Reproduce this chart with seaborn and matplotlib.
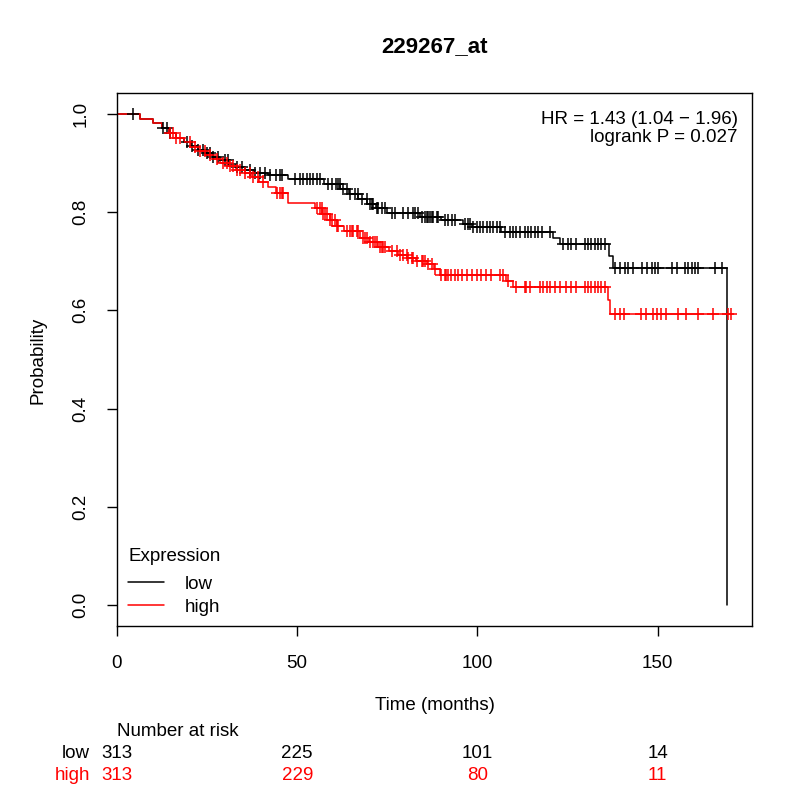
import matplotlib
matplotlib.use("Agg")
import matplotlib.pyplot as plt
import matplotlib.transforms as mtransforms
from matplotlib.lines import Line2D
import numpy as np
import pandas as pd
import seaborn as sns

sns.set_theme(style="white")
plt.rcParams["font.family"] = ["Liberation Sans", "DejaVu Sans"]
plt.rcParams["text.color"] = "black"
plt.rcParams["axes.labelcolor"] = "black"

# Kaplan-Meier steps (time in months, survival after step)
low_event_t = [0, 6.5, 10, 12.5, 14.5, 16.5, 18.5, 20.5, 22.5, 24.5, 26.5, 28.5,
               31, 33, 35.5, 38, 42, 47.5, 57.5, 62, 64.5, 67, 69.5, 72, 75, 84,
               90, 96, 98.5, 106.5, 121, 123, 136.5, 137.5, 169.2]
low_event_s = [1.000, 0.990, 0.980, 0.970, 0.960, 0.951, 0.943, 0.935, 0.927,
               0.919, 0.912, 0.905, 0.898, 0.892, 0.886, 0.880, 0.875, 0.867,
               0.856, 0.846, 0.836, 0.826, 0.817, 0.808, 0.798, 0.790, 0.783,
               0.776, 0.770, 0.760, 0.748, 0.735, 0.710, 0.686, 0.0]

high_event_t = [0, 6.5, 10, 12.5, 14.5, 16.5, 18.5, 20.5, 22.5, 24.5, 26.5, 28.5,
                31, 33, 35.5, 37.5, 39.5, 42, 44, 47.5, 55, 57, 59, 61, 63, 67.5,
                70, 72.5, 75.5, 78, 80.5, 83, 86, 88, 89.6, 108, 110, 136.3,
                136.8, 170.5]
high_event_s = [1.000, 0.990, 0.980, 0.970, 0.960, 0.951, 0.942, 0.933, 0.924,
                0.916, 0.908, 0.900, 0.893, 0.886, 0.880, 0.872, 0.862, 0.851,
                0.838, 0.818, 0.808, 0.796, 0.784, 0.772, 0.762, 0.748, 0.738,
                0.728, 0.720, 0.713, 0.706, 0.700, 0.694, 0.684, 0.672, 0.660,
                0.648, 0.621, 0.592, 0.592]

low_censor = [4.5, 12.8, 13.9, 14.7, 19.4, 20.8, 22.5, 23.9, 25, 25.8, 26.6, 28,
              30, 30.8, 33.3, 34.7, 36.9, 38.3, 39.7, 41, 42.5, 44, 45.2, 45.8,
              49.4, 50.7, 51.7, 52.6, 53.5, 54.4, 55.4, 56.3, 58.5, 59.6, 60.9,
              61.3, 61.8, 62.7, 63.8, 64.6, 66, 66.8, 67.9, 69.3, 70.2, 70.7, 71,
              72.1, 72.4, 73.5, 74.3, 76.3, 77.1, 79.3, 80.7, 82.1, 82.6, 83.5,
              84.5, 85.4, 85.9, 86.3, 86.8, 87.3, 87.7, 88.7, 89.1, 91, 91.8,
              92.9, 93.7, 96.5, 97.3, 97.9, 98.7, 99.8, 100.7, 101.5, 102.6,
              103.4, 104.3, 105.4, 106.2, 107.6, 109, 109.9, 110.8, 111.8, 113.1,
              114.1, 115, 115.9, 116.8, 117.8, 120.1, 123.8, 125.2, 126.1, 127.5,
              129.8, 130.7, 131.6, 132.5, 133.5, 134.4, 135.3, 138.1, 139.5,
              140.9, 141.7, 143.1, 145.6, 147, 148.4, 149.2, 150, 153.9, 155.3,
              157.5, 158.4, 159.5, 160.3, 161.1, 165.8, 167.8]

high_censor = [14.7, 15.6, 16.5, 17.5, 20.2, 21.6, 23, 24.4, 25.8, 27.7, 29.4,
               30.5, 31.3, 32.2, 33.3, 34.1, 35.5, 36.9, 37.7, 39.1, 40.5, 44.4,
               45.2, 45.8, 46, 55.5, 56.3, 56.8, 57.1, 57.7, 58.2, 59.1, 59.6,
               60.5, 61, 61.3, 63.8, 64.6, 65.2, 65.4, 66.6, 66.8, 68.2, 68.8,
               69.3, 70.2, 71, 71.5, 72.1, 72.9, 73.5, 73.8, 74.3, 76.3, 77.6,
               78.5, 79.3, 80.4, 80.7, 81.8, 82.1, 83.2, 84.5, 84.9, 85.4, 86.2,
               87.3, 88.2, 90, 91, 91.4, 91.9, 92.8, 93.7, 94.7, 95.6, 97, 98.4,
               99.8, 101.1, 102.5, 103.9, 106.2, 107.1, 108.5, 110.8, 113.1,
               113.6, 114.5, 117.3, 118.2, 119.2, 120.1, 121.5, 122.8, 124.7,
               126.1, 127.5, 129.8, 130.7, 131.6, 132.5, 133.5, 134.4, 135.3,
               138.1, 139.5, 140.6, 145.5, 146.9, 148.7, 149.8, 151, 152.4, 155.7,
               158, 161.2, 165.4, 169.6, 170.5]

risk_times = [0, 50, 100, 150]
risk_low = [313, 225, 101, 14]
risk_high = [313, 229, 80, 11]

groups = ["low", "high"]
colors = {"low": "black", "high": "red"}
FS = 13.5


def surv_at(times, surv, t):
    idx = np.searchsorted(times, t, side="right") - 1
    return np.asarray(surv)[idx]


curves = pd.concat([
    pd.DataFrame({"time": low_event_t, "surv": low_event_s, "group": "low"}),
    pd.DataFrame({"time": high_event_t, "surv": high_event_s, "group": "high"}),
], ignore_index=True)

low_c = np.array(low_censor)
high_c = np.array(high_censor)
censors = pd.concat([
    pd.DataFrame({"time": low_c, "surv": surv_at(low_event_t[:-1], low_event_s[:-1], low_c), "group": "low"}),
    pd.DataFrame({"time": high_c, "surv": surv_at(high_event_t, high_event_s, high_c), "group": "high"}),
], ignore_index=True)

fig = plt.figure(figsize=(8, 8), dpi=100)
ax = fig.add_axes([117 / 800, 1 - 626 / 800, (752 - 117) / 800, (626 - 93) / 800])

sns.lineplot(data=curves, x="time", y="surv", hue="group", palette=colors,
             drawstyle="steps-post", estimator=None, sort=False, legend=False,
             linewidth=1.1, ax=ax)
sns.scatterplot(data=censors, x="time", y="surv", hue="group", palette=colors,
                marker="+", s=75, linewidth=1.1, legend=False, ax=ax, zorder=3)

ax.set_xlim(0, 176.2)
ax.set_ylim(-0.042, 1.042)
ax.set_xticks([0, 50, 100, 150])
ax.set_yticks([0.0, 0.2, 0.4, 0.6, 0.8, 1.0])
ax.set_yticklabels(["0.0", "0.2", "0.4", "0.6", "0.8", "1.0"], rotation=90, va="center")
ax.tick_params(axis="both", direction="out", length=7, width=1, color="black",
               labelsize=FS, labelcolor="black", bottom=True, left=True)
ax.tick_params(axis="x", pad=14)
ax.tick_params(axis="y", pad=13)
for sp in ax.spines.values():
    sp.set_color("black")
    sp.set_linewidth(1.0)
ax.set_xlabel("")
ax.set_ylabel("")

fig.text(434.5 / 800, 1 - 47 / 800, "229267_at", ha="center", va="center",
         fontsize=16, fontweight="bold")
fig.text(38 / 800, 1 - 360 / 800, "Probability", rotation=90, ha="center",
         va="center", fontsize=FS)
fig.text(434.5 / 800, 1 - 706 / 800, "Time (months)", ha="center", va="center",
         fontsize=FS)

fig.text(738 / 800, 1 - 120 / 800, "HR = 1.43 (1.04 \u2212 1.96)", ha="right",
         va="center", fontsize=FS)
fig.text(738 / 800, 1 - 138 / 800, "logrank P = 0.027", ha="right",
         va="center", fontsize=FS)

handles = [Line2D([0], [0], color=colors[g], lw=1.1) for g in groups]
leg = ax.legend(handles, groups, title="Expression", loc="lower left",
                bbox_to_anchor=(-0.012, -0.016), frameon=False, fontsize=FS,
                title_fontsize=FS, handlelength=1.9, handletextpad=1.1,
                labelspacing=0.3, borderpad=0.5, alignment="left")
leg._legend_box.sep = 8

trans = mtransforms.blended_transform_factory(ax.transData, fig.transFigure)
fig.text(117 / 800, 1 - 731 / 800, "Number at risk", ha="left", va="center",
         fontsize=FS)
fig.text(90 / 800, 1 - 753 / 800, "low", ha="right", va="center", fontsize=FS,
         color=colors["low"])
fig.text(90 / 800, 1 - 775 / 800, "high", ha="right", va="center", fontsize=FS,
         color=colors["high"])
for t, nl, nh in zip(risk_times, risk_low, risk_high):
    ax.text(t, 1 - 753 / 800, str(nl), transform=trans, ha="center",
            va="center", fontsize=FS, color=colors["low"], clip_on=False)
    ax.text(t, 1 - 775 / 800, str(nh), transform=trans, ha="center",
            va="center", fontsize=FS, color=colors["high"], clip_on=False)

fig.savefig("out.png", dpi=100)
